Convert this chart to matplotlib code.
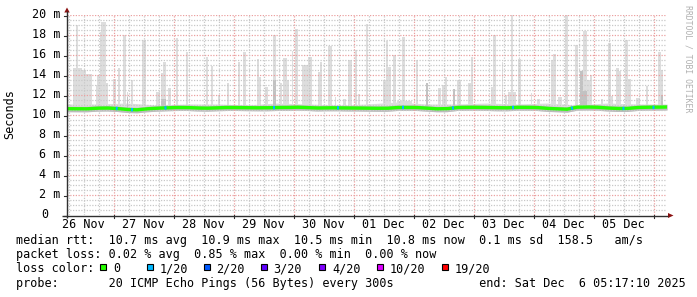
import matplotlib
matplotlib.use("Agg")
import matplotlib.pyplot as plt
from matplotlib.patches import Rectangle, Polygon
import numpy as np

# ---------------- data (hours since graph start, values in ms) ----------------
med_hours = list(range(0, 241, 4))
med_vals = [10.63, 10.62, 10.62, 10.68, 10.70, 10.65, 10.55, 10.52, 10.62, 10.68,
            10.72, 10.75, 10.75, 10.70, 10.68, 10.72, 10.75, 10.75, 10.73, 10.72,
            10.72, 10.75, 10.75, 10.78, 10.75, 10.70, 10.72, 10.72, 10.70, 10.70,
            10.68, 10.67, 10.67, 10.75, 10.76, 10.75, 10.68, 10.62, 10.63, 10.75,
            10.77, 10.77, 10.75, 10.72, 10.72, 10.77, 10.77, 10.75, 10.66, 10.62,
            10.58, 10.78, 10.80, 10.78, 10.70, 10.65, 10.65, 10.75, 10.78, 10.78,
            10.80]

haze_hours = list(range(0, 241, 12))
haze_top = [11.1, 11.1, 11.2, 11.0, 11.1, 11.1, 11.0, 11.2, 11.1, 11.0, 11.1,
            11.3, 11.1, 11.1, 11.2, 11.1, 11.2, 11.0, 11.2, 11.1, 11.1]

# smoke spikes: start hour, end hour, top (ms)
spike_start = [2.4, 3.6, 6.0, 7.6, 11.6, 12.0, 13.2, 13.6, 15.6, 18.4, 20.4, 22.4, 24.0,
               25.6, 30.0, 35.6, 37.6, 38.4, 40.4, 43.6, 47.6, 55.6, 57.6, 60.4, 64.0,
               68.4, 70.4, 76.0, 76.8, 79.2, 82.4, 85.2, 86.4, 88.0, 90.0, 91.2, 94.0,
               96.4, 100.4, 101.2, 104.4, 107.2, 110.4, 112.4, 115.2, 116.4, 119.6,
               126.4, 127.6, 128.4, 130.4, 132.0, 134.0, 135.2, 139.6, 143.6, 148.4,
               150.0, 151.2, 154.4, 156.0, 160.4, 161.6, 169.6, 170.4, 174.0, 175.2,
               176.4, 177.6, 178.4, 180.4, 185.6, 188.0, 193.6, 194.4, 196.4, 199.2,
               203.2, 205.2, 206.4, 208.0, 209.2, 213.6, 216.4, 217.6, 219.6, 220.8,
               223.2, 224.4, 227.6, 231.6, 236.4, 237.6]
spike_end = [6.0, 4.4, 7.6, 10.0, 12.0, 13.2, 13.6, 15.6, 16.4, 19.6, 21.2, 23.6, 24.4,
             26.4, 31.6, 37.2, 38.4, 39.6, 41.6, 44.4, 48.4, 56.4, 58.4, 61.2, 64.8,
             69.2, 71.6, 76.8, 77.6, 80.4, 83.6, 86.0, 88.0, 88.8, 90.4, 92.4, 96.4,
             98.0, 101.2, 102.0, 106.0, 107.6, 111.6, 114.0, 116.0, 117.2, 120.4,
             127.6, 128.4, 129.6, 131.6, 134.0, 135.2, 138.0, 140.4, 144.4, 149.6,
             151.2, 152.0, 155.2, 157.6, 161.6, 162.4, 170.8, 171.6, 174.4, 176.0,
             177.6, 178.4, 179.6, 181.6, 186.0, 189.2, 194.4, 195.6, 198.0, 200.4,
             204.4, 206.4, 208.0, 209.2, 210.0, 214.4, 217.6, 218.4, 220.8, 221.6,
             224.4, 225.6, 229.2, 232.4, 237.6, 238.4]
spike_top = [14.7, 19.0, 14.5, 14.1, 13.0, 14.0, 18.3, 19.3, 13.2, 13.6, 14.7, 18.0, 12.3,
             13.5, 17.5, 12.3, 14.2, 15.3, 12.7, 17.7, 16.3, 15.8, 14.9, 12.0, 13.2,
             15.3, 16.3, 15.6, 13.8, 12.8, 18.0, 13.2, 15.7, 13.5, 16.4, 18.6, 15.0,
             15.8, 14.3, 15.3, 16.9, 11.8, 11.6, 15.5, 16.5, 12.1, 19.1,
             13.5, 17.4, 14.8, 16.0, 11.4, 17.8, 11.4, 15.5, 13.2, 12.7,
             13.0, 13.8, 12.6, 13.5, 13.2, 15.8, 12.8, 18.0, 15.3, 12.0,
             12.3, 20.0, 12.3, 15.6, 12.2, 11.6, 15.5, 16.1, 11.8, 20.0,
             17.0, 14.4, 18.4, 13.5, 14.0, 11.6, 17.2, 11.9, 14.7, 14.4,
             17.5, 13.6, 11.7, 12.9, 16.3, 14.5]

# darker smoke cores: start hour, end hour, top (ms)
core_start = [24.0, 37.6, 82.4, 143.6, 154.4, 205.2, 206.4, 237.6]
core_end = [24.4, 39.6, 83.6, 144.4, 155.2, 206.4, 208.0, 238.4]
core_top = [11.8, 11.6, 13.5, 13.2, 12.6, 14.4, 12.4, 12.0]

# packet loss (count out of 20) at sample hours
loss_hours = [19.9, 26.0, 39.4, 82.8, 108.4, 134.4, 154.4, 178.4, 202.0, 222.4, 234.4]
loss_count = [1, 1, 1, 1, 1, 1, 1, 1, 1, 1, 1]

loss_labels = ["0", "1/20", "2/20", "3/20", "4/20", "10/20", "19/20"]
loss_colors = ["#26ff00", "#00b8ff", "#0059ff", "#5e00ff", "#7e00ff", "#dd00ff", "#ff0000"]
loss_levels = [0, 1, 2, 3, 4, 10, 19]

y_ticks = [0, 2, 4, 6, 8, 10, 12, 14, 16, 18, 20]
day_labels = ["26 Nov", "27 Nov", "28 Nov", "29 Nov", "30 Nov",
              "01 Dec", "02 Dec", "03 Dec", "04 Dec", "05 Dec"]
first_midnight = 18.71   # hours after start (end time Sat Dec 6 05:17:10 2025)

text_lines = [
    "median rtt:  10.7 ms avg  10.9 ms max  10.5 ms min  10.8 ms now  0.1 ms sd  158.5   am/s",
    "packet loss: 0.02 % avg  0.85 % max  0.00 % min  0.00 % now",
    "loss color:",
    "probe:       20 ICMP Echo Pings (56 Bytes) every 300s            end: Sat Dec  6 05:17:10 2025",
]

# ---------------- figure ----------------
W, H = 697, 297
fig = plt.figure(figsize=(W / 100, H / 100), dpi=100)
fig.patch.set_facecolor("white")
mono = "DejaVu Sans Mono"
fs = 8.5

ax = fig.add_axes([67 / W, (H - 215) / H, 600 / W, 200 / H])
ax.set_xlim(0, 240)
ax.set_ylim(0, 20)
ax.set_facecolor("white")
for s in ax.spines.values():
    s.set_visible(False)
ax.set_xticks([])
ax.set_yticks([])

mh = np.array(med_hours, dtype=float)
mv = np.array(med_vals)
fine = np.linspace(0, 240, 601)
med_fine = np.interp(fine, mh, mv)
haze_fine = np.interp(fine, haze_hours, haze_top)

# haze smoke
ax.fill_between(fine, med_fine - 0.3, haze_fine, color="#dddddd", lw=0, zorder=1)
# spikes
ss = np.array(spike_start); se = np.array(spike_end); st = np.array(spike_top)
ax.bar(ss, st - 10.5, width=se - ss, bottom=10.5, align="edge",
       color="#dddddd", lw=0, zorder=1)
cs = np.array(core_start); ce = np.array(core_end); ct = np.array(core_top)
ax.bar(cs, ct - 10.5, width=ce - cs, bottom=10.5, align="edge",
       color="#c2c2c2", lw=0, zorder=1.1)
# darker band around the median
ax.fill_between(fine, med_fine - 0.3, med_fine + 0.25, color="#bbbbbb", lw=0, zorder=1.2)

# grid
major_col = "#eba0a0"
minor_col = "#c8c8c8"
for v in np.arange(0.5, 20.01, 0.5):
    if abs(v / 2 - round(v / 2)) < 1e-6:
        ax.axhline(v, color=major_col, lw=0.9, dashes=(1, 1.2), zorder=2)
    else:
        ax.axhline(v, color=minor_col, lw=0.9, dashes=(1, 1.2), zorder=2)
h = first_midnight - 18
while h <= 240:
    if abs(((h - first_midnight) / 24) - round((h - first_midnight) / 24)) < 1e-6:
        ax.axvline(h, color=major_col, lw=0.9, dashes=(1, 1.2), zorder=2)
    else:
        ax.axvline(h, color=minor_col, lw=0.9, dashes=(1, 1.2), zorder=2)
    h += 6

# median line
ax.plot(fine, med_fine, color=loss_colors[0], lw=2.4, solid_capstyle="butt", zorder=3)
for lh, lc in zip(loss_hours, loss_count):
    ci = max(i for i, lv in enumerate(loss_levels) if lv <= lc)
    seg = np.linspace(lh - 0.4, lh + 0.4, 3)
    ax.plot(seg, np.interp(seg, mh, mv), color=loss_colors[ci], lw=2.4,
            solid_capstyle="butt", zorder=3.1)

# ---------------- overlay (pixel coordinates) ----------------
ov = fig.add_axes([0, 0, 1, 1], facecolor="none")
ov.set_xlim(0, W)
ov.set_ylim(H, 0)
ov.axis("off")

def ypix(v):
    return 215 - v * 10

def xpix(hh):
    return 67 + hh * 2.5

axis_col = "#303030"
arrow_col = "#8b1010"
ov.plot([67, 67], [218, 11], color=axis_col, lw=1, solid_capstyle="butt")
ov.plot([62, 668], [215.5, 215.5], color=axis_col, lw=1, solid_capstyle="butt")
ov.add_patch(Polygon([[64.3, 12.5], [69.7, 12.5], [67, 7.5]], closed=True,
                     color=arrow_col, lw=0))
ov.add_patch(Polygon([[668, 213], [668, 218], [673.5, 215.5]], closed=True,
                     color=arrow_col, lw=0))

for v in y_ticks:
    y = ypix(v)
    ov.plot([63.5, 67], [y + 0.5, y + 0.5], color=axis_col, lw=0.8)
    if v == 0:
        ov.text(45, y, "0", fontfamily=mono, fontsize=fs, ha="center", va="center")
    else:
        ov.text(60.8, y, f"{v} m", fontfamily=mono, fontsize=fs, ha="right", va="center")

for i, lab in enumerate(day_labels):
    mid = first_midnight + 24 * (i - 1)
    if mid > 0:
        ov.plot([xpix(mid)] * 2, [215, 218], color=axis_col, lw=0.8)
    ov.text(xpix(first_midnight - 12 + 24 * i), 227.7, lab, fontfamily=mono, fontsize=fs,
            ha="center", va="baseline")
last_mid = first_midnight + 24 * 9
ov.plot([xpix(last_mid)] * 2, [215, 218], color=axis_col, lw=0.8)

ov.text(10, 114.5, "Seconds", fontfamily=mono, fontsize=fs, rotation=90,
        ha="center", va="center")
ov.text(688, 5, "RRDTOOL / TOBI OETIKER", fontfamily=mono, fontsize=5.9,
        rotation=270, ha="center", va="top", color="#b0b0b0")

baselines = [244.3, 258.4, 272.5, 286.6]
for line, yb in zip(text_lines, baselines):
    ov.text(16, yb, line, fontfamily=mono, fontsize=fs, ha="left", va="baseline")

box_x = [100, 146.5, 203.5, 260.5, 319, 377, 442]
for bx, lab, col in zip(box_x, loss_labels, loss_colors):
    ov.add_patch(Rectangle((bx, 263.7), 6.3, 6.3, facecolor=col, edgecolor="black", lw=0.8))
    ov.text(bx + 13, 272.5, lab, fontfamily=mono, fontsize=fs, ha="left", va="baseline")

fig.savefig("out.png", dpi=100, facecolor="white")
